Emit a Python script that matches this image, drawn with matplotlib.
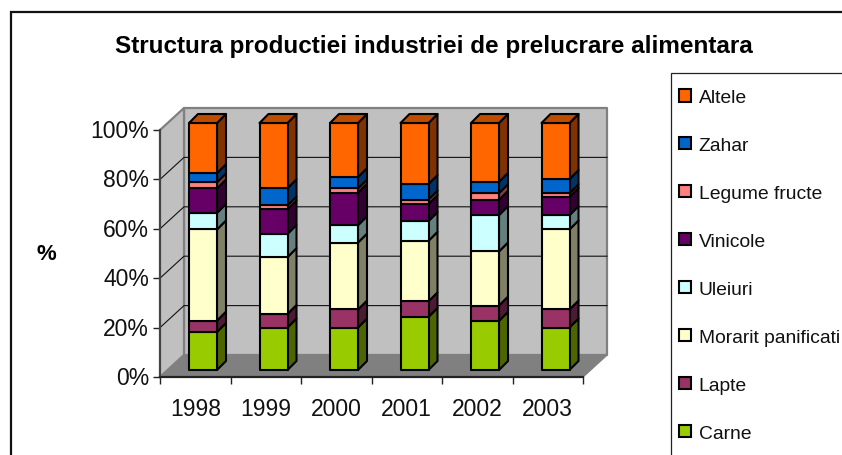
import numpy as np
import matplotlib
matplotlib.use("Agg")
import matplotlib.pyplot as plt
from matplotlib.patches import Polygon, Rectangle
from matplotlib.colors import to_rgb
from matplotlib.transforms import ScaledTranslation

years = ["1998", "1999", "2000", "2001", "2002", "2003"]
carne = [15.4, 17.2, 17.2, 21.5, 19.9, 17.2]
lapte = [4.6, 5.5, 7.3, 6.3, 6.2, 7.3]
morarit = [36.9, 23.0, 27.1, 24.5, 21.9, 32.4]
uleiuri = [6.7, 9.4, 7.0, 8.0, 14.7, 5.8]
vinicole = [9.9, 9.9, 13.2, 6.9, 6.2, 7.4]
legume = [2.5, 1.6, 1.7, 1.8, 2.7, 1.5]
zahar = [3.7, 7.0, 4.6, 6.3, 4.6, 5.7]
altele = [20.3, 26.4, 21.9, 24.7, 23.8, 22.7]

names = ["Carne", "Lapte", "Morarit panificati", "Uleiuri", "Vinicole",
         "Legume fructe", "Zahar", "Altele"]
series = [carne, lapte, morarit, uleiuri, vinicole, legume, zahar, altele]
colors = ["#99CC00", "#993366", "#FFFFCC", "#CCFFFF", "#660066",
          "#FF8080", "#0066CC", "#FF6600"]

W, H = 842, 456
plt.rcParams["font.family"] = ["Liberation Sans", "DejaVu Sans"]
fig = plt.figure(figsize=(W / 100, H / 100), dpi=100)
fig.patch.set_facecolor("white")


def fx(p):
    return p / W


def fy(p):
    return 1 - p / H


# outer chart frame and legend frame (run off the canvas on the right / bottom)
fig.add_artist(Rectangle((fx(11), fy(500)), fx(900), fy(13) - fy(500), transform=fig.transFigure,
                         fc="none", ec="#111111", lw=1.6, clip_on=False))
fig.add_artist(Rectangle((fx(671), fy(500)), fx(300), fy(74) - fy(500), transform=fig.transFigure,
                         fc="none", ec="#222222", lw=0.9, clip_on=False))

ax = fig.add_axes([fx(160), fy(378), fx(423), fy(131) - fy(378)])
ax.set_xlim(0, 6)
ax.set_ylim(0, 100)
ax.patch.set_visible(False)
for s in ax.spines.values():
    s.set_visible(False)

PX = 6 / 423
PY = 100 / 247
dx, dy = 24 * PX, 22 * PY  # wall depth (up and right)


def poly(pts, fc, ec="black", lw=1.5, z=2):
    ax.add_patch(Polygon(pts, closed=True, fc=fc, ec=ec, lw=lw, zorder=z,
                         clip_on=False, joinstyle="round"))


# walls and floor
poly([(dx, dy), (6 + dx, dy), (6 + dx, 100 + dy), (dx, 100 + dy)], "#C0C0C0", "#808080", 1.6, 1)
poly([(0, 0), (dx, dy), (dx, 100 + dy), (0, 100)], "#C0C0C0", "#808080", 1.6, 1)
poly([(0, 0), (6, 0), (6 + dx, dy), (dx, dy)], "#808080", "#808080", 1.0, 1.2)

# gridlines
for g in [20, 40, 60, 80]:
    ax.plot([0, dx, 6 + dx], [g, g + dy, g + dy], color="#111111", lw=0.8, zorder=1.5, clip_on=False)

# axes lines
ax.plot([0, 0], [0, 100], color="#444444", lw=1.5, zorder=1.6, clip_on=False)
ax.plot([0, 6], [0, 0], color="#222222", lw=1.6, zorder=1.6, clip_on=False)

# bars
off_x, off_y = 7.75 * PX, 7 * PY
bw = 28 * PX
ddx, ddy = 9 * PX, 9 * PY
top_col = np.array(to_rgb("#FF6600")) * 0.75
for i in range(len(years)):
    x0 = i + 0.5 - bw / 2 + off_x
    x1 = x0 + bw
    base = 0.0
    for vals, col in zip(series, colors):
        v = vals[i]
        y0, y1 = base + off_y, base + v + off_y
        side = np.array(to_rgb(col)) * 0.5
        poly([(x1, y0), (x1 + ddx, y0 + ddy), (x1 + ddx, y1 + ddy), (x1, y1)], side, z=3 + i)
        poly([(x0, y0), (x1, y0), (x1, y1), (x0, y1)], col, z=3 + i)
        base += v
    poly([(x0, y1), (x1, y1), (x1 + ddx, y1 + ddy), (x0 + ddx, y1 + ddy)], top_col, z=3 + i)

# ticks
ax.set_xticks(np.arange(0, 7))
ax.set_xticklabels([])
ax.set_xticks(np.arange(0.5, 6), labels=years, minor=True)
ax.tick_params(axis="x", which="major", length=5, width=1.0, color="#222222", direction="out")
ax.tick_params(axis="x", which="minor", length=0, labelsize=16.5, pad=14.5, labelcolor="#111111")
ax.set_yticks(np.arange(0, 101, 20), labels=[f"{t}%" for t in range(0, 101, 20)])
ax.tick_params(axis="y", length=5, width=1.0, color="#222222", labelsize=16.5, pad=3, labelcolor="#111111")
lift = ScaledTranslation(0, 2 / 100, fig.dpi_scale_trans)
for lab in ax.get_yticklabels():
    lab.set_transform(lab.get_transform() + lift)

# titles
fig.text(fx(434), fy(47), "Structura productiei industriei de prelucrare alimentara",
         ha="center", va="center", fontsize=17.5, fontweight="bold", color="black")
fig.text(fx(46), fy(255), "%", ha="center", va="center", fontsize=16, fontweight="bold", color="black")

# legend
handles = [Rectangle((0, 0), 1, 1, fc=c, ec="black", lw=1.5) for c in colors[::-1]]
fig.legend(handles, names[::-1], loc="upper left", bbox_to_anchor=(fx(679), fy(90)),
           frameon=False, fontsize=13.9, borderpad=0, borderaxespad=0, labelspacing=1.6,
           handlelength=0.62, handleheight=0.62, handletextpad=0.4, labelcolor="#111111")

fig.savefig("out.png", dpi=100)
